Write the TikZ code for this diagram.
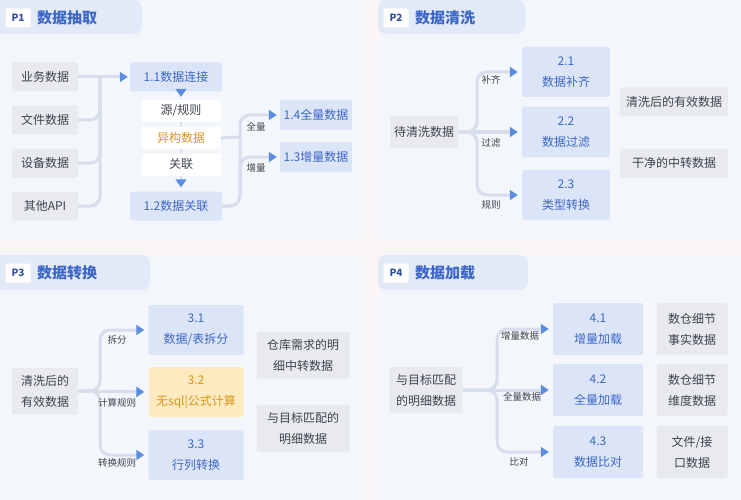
\documentclass[tikz,border=0pt]{standalone}
\usepackage{fontspec}
\setmainfont{Noto Sans CJK SC}
\usetikzlibrary{arrows.meta,positioning}

\definecolor{pagebg}{HTML}{FBF6F6}
\definecolor{panelbg}{HTML}{F3F7FC}
\definecolor{tabbg}{HTML}{E2EAF7}
\definecolor{graybox}{HTML}{E8EAEF}
\definecolor{bluebox}{HTML}{DCE5F8}
\definecolor{bluetext}{HTML}{3D67C6}
\definecolor{orangebox}{HTML}{FDEAC0}
\definecolor{orangetext}{HTML}{D8981C}
\definecolor{linkcol}{HTML}{D6DEEC}
\definecolor{tipcol}{HTML}{5C8CE0}
\definecolor{darktext}{HTML}{3E434C}

\tikzset{
  boxtext/.style={font=\fontsize{12}{21}\selectfont, align=center, inner sep=0pt},
  srcbox/.style={boxtext, fill=graybox, text=darktext, rounded corners=1.5pt,
    minimum width=66pt, minimum height=29pt},
  stepbox/.style={boxtext, fill=bluebox, text=bluetext, rounded corners=1.5pt,
    minimum width=92pt, minimum height=29pt},
  hotbox/.style={stepbox, fill=orangebox, text=orangetext},
  midbox/.style={boxtext, fill=white, text=darktext, minimum width=79pt, minimum height=22pt},
  lbl/.style={font=\fontsize{9.5}{11}\selectfont, text=darktext, inner sep=0pt},
  link/.style={draw=linkcol, line width=3pt, rounded corners=10pt},
  flow/.style={link, -{Triangle[length=8pt,width=10pt,color=tipcol]}},
  tabtag/.style={fill=white, text=bluetext!80!black, font=\fontsize{10}{11}\selectfont\bfseries,
    minimum width=25pt, minimum height=19pt, inner sep=0pt, rounded corners=1pt},
  tabtitle/.style={text=bluetext, font=\fontsize{15}{16}\selectfont\bfseries, anchor=west, inner sep=0pt}
}

\begin{document}
\begin{tikzpicture}[x=1pt,y=-1pt]

\useasboundingbox (0,0) rectangle (741,500);
\clip (0,0) rectangle (741,500);
\fill[pagebg] (0,0) rectangle (741,500);		% Hintergrund

% Felder
\fill[panelbg] (0,0) rectangle (362,240);
\fill[panelbg] (378,0) rectangle (741,240);
\fill[panelbg] (0,255) rectangle (362,500);
\fill[panelbg] (378,255) rectangle (741,500);

% Reiter
\fill[tabbg,rounded corners=8pt] (-10,0) rectangle (142,34);
\fill[tabbg,rounded corners=8pt] (378,0) rectangle (525,34);
\fill[tabbg,rounded corners=8pt] (-10,255) rectangle (150,290);
\fill[tabbg,rounded corners=8pt] (378,255) rectangle (528,290);
\node[tabtag] (tag1) at (18,18) {P1};
\node[tabtitle] (title1) at (37,18) {数据抽取};
\node[tabtag] (tag2) at (396,18) {P2};
\node[tabtitle] (title2) at (415,18) {数据清洗};
\node[tabtag] (tag3) at (18,273) {P3};
\node[tabtitle] (title3) at (37,273) {数据转换};
\node[tabtag] (tag4) at (396,273) {P4};
\node[tabtitle] (title4) at (415,273) {数据加载};

%%% P1 Datenextraktion
\node[srcbox] (ywsj) at (45,77) {业务数据};
\node[srcbox] (wjsj) at (45,120) {文件数据};
\node[srcbox] (sbsj) at (45,163) {设备数据};
\node[srcbox] (qtapi) at (45,206) {其他API};
\node[stepbox] (c11) at (176,77) {1.1数据连接};
\node[stepbox] (c12) at (176,206) {1.2数据关联};
\node[stepbox, minimum width=72pt, minimum height=30pt] (c14) at (316,115) {1.4全量数据};
\node[stepbox, minimum width=72pt, minimum height=30pt] (c13) at (316,157) {1.3增量数据};
\coordinate (t1) at (100,77);
\coordinate (b0) at (240,137);
\coordinate (b1) at (240,115);
\coordinate (b2) at (240,157);

\draw[link] (wjsj.east) -| (t1);
\draw[link] (sbsj.east) -| (t1);
\draw[link] (qtapi.east) -| (t1);
\draw[flow, shorten >=2pt] (ywsj.east) -- (c11.west);		% Quellen zu 1.1
\draw[flow, shorten >=3pt] (c12.east) -| (b1) -- (c14.west);
\draw[flow, shorten >=3pt] (c12.east) -| (b2) -- (c13.west);

\node[midbox] (yuan) at (181,111) {源/规则};
\node[midbox, text=orangetext] (ygsj) at (181,138) {异构数据};
\node[midbox] (gl) at (181,164.5) {关联};
\draw[link, line width=1.5pt, dashed, -{Triangle[length=8pt,width=11pt,color=tipcol]}, shorten >=3pt]
  (yuan.north |- c11.south) -- (yuan.north);
\draw[link, line width=1.5pt] (yuan.south) -- (ygsj.north) (ygsj.south) -- (gl.north);
\draw[link, line width=1.5pt, -{Triangle[length=8pt,width=11pt,color=tipcol]}, shorten >=4pt]
  (gl.south) -- (gl.south |- c12.north);
\draw[link] (ygsj.east) -- (b0);
\node[lbl] (lq1) at (256,127) {全量};
\node[lbl] (lz1) at (256,168) {增量};

%%% P2 Datenbereinigung
\node[srcbox, minimum width=68pt, minimum height=31pt] (dq) at (424,132) {待清洗数据};
\node[stepbox, minimum width=88pt, minimum height=50pt] (c21) at (566,72) {2.1\\数据补齐};
\node[stepbox, minimum width=88pt, minimum height=50pt] (c22) at (566,132) {2.2\\数据过滤};
\node[stepbox, minimum width=88pt, minimum height=50pt] (c23) at (566,195) {2.3\\类型转换};
\node[srcbox, minimum width=108pt] (qx) at (674,102) {清洗后的有效数据};
\node[srcbox, minimum width=108pt] (gj) at (674,163) {干净的中转数据};
\coordinate (p2a) at (477,72);
\coordinate (p2c) at (477,195);
\draw[flow, shorten >=4pt] (dq.east) -| (p2a) -- (c21.west);
\draw[flow, shorten >=4pt] (dq.east) -- (c22.west);
\draw[flow, shorten >=4pt] (dq.east) -| (p2c) -- (c23.west);
\node[lbl] (lbq) at (491,80) {补齐};
\node[lbl] (lgl) at (491,143) {过滤};
\node[lbl] (lgz) at (491,205) {规则};

%%% P3 Datentransformation
\node[srcbox, minimum height=47pt] (qxh) at (45,391) {清洗后的\\有效数据};
\node[stepbox, minimum width=95pt, minimum height=50pt] (c31) at (196,330) {3.1\\数据/表拆分};
\node[hotbox, minimum width=95pt, minimum height=50pt] (c32) at (196,392) {3.2\\无sql|公式计算};
\node[stepbox, minimum width=95pt, minimum height=50pt] (c33) at (196,455) {3.3\\行列转换};
\node[srcbox, minimum width=93pt, minimum height=47pt] (ck) at (303,355) {仓库需求的明\\细中转数据};
\node[srcbox, minimum width=93pt, minimum height=47pt] (yp) at (303,428) {与目标匹配的\\明细数据};
\coordinate (p3a) at (100,330);
\coordinate (p3c) at (100,455);
\draw[flow, shorten >=4pt] (qxh.east) -| (p3a) -- (c31.west);
\draw[flow, shorten >=4pt] (qxh.east) -- (c32.west);
\draw[flow, shorten >=4pt] (qxh.east) -| (p3c) -- (c33.west);
\node[lbl] (lcf) at (117,340) {拆分};
\node[lbl] (ljs) at (117,403) {计算规则};
\node[lbl] (lzh) at (117,463) {转换规则};

%%% P4 Datenladen
\node[srcbox, minimum width=73pt, minimum height=46pt] (yt) at (426,390) {与目标匹配\\的明细数据};
\node[stepbox, minimum width=90pt, minimum height=52pt] (c41) at (598,329) {4.1\\增量加载};
\node[stepbox, minimum width=90pt, minimum height=52pt] (c42) at (598,390) {4.2\\全量加载};
\node[stepbox, minimum width=90pt, minimum height=52pt] (c43) at (598,452) {4.3\\数据比对};
\node[srcbox, minimum width=71pt, minimum height=52pt] (ss) at (692,329) {数仓细节\\事实数据};
\node[srcbox, minimum width=71pt, minimum height=52pt] (ws) at (692,390) {数仓细节\\维度数据};
\node[srcbox, minimum width=71pt, minimum height=52pt] (wjk) at (692,452) {文件/接\\口数据};
\coordinate (p4a) at (497,329);
\coordinate (p4c) at (497,452);
\draw[flow, shorten >=4pt] (yt.east) -| (p4a) -- (c41.west);
\draw[flow, shorten >=4pt] (yt.east) -- (c42.west);
\draw[flow, shorten >=4pt] (yt.east) -| (p4c) -- (c43.west);
\node[lbl] (lzl) at (520,336) {增量数据};
\node[lbl] (lql) at (522,397) {全量数据};
\node[lbl] (lbd) at (519,462) {比对};

\end{tikzpicture}
\end{document}
